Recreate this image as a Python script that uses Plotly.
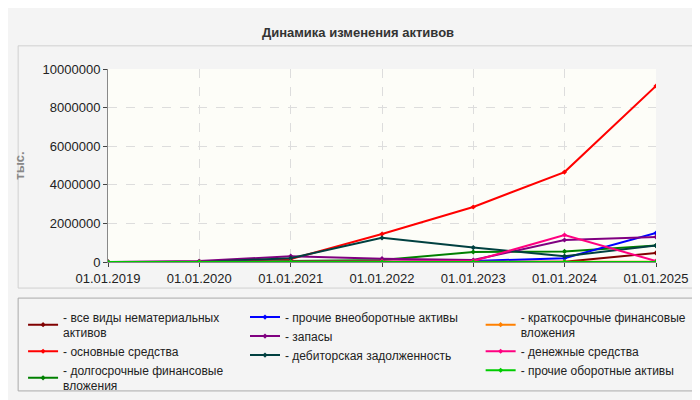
import plotly.graph_objs as go

dates = ['2019-01-01', '2020-01-01', '2021-01-01', '2022-01-01',
         '2023-01-01', '2024-01-01', '2025-01-01']
tick_labels = ['01.01.2019', '01.01.2020', '01.01.2021', '01.01.2022',
               '01.01.2023', '01.01.2024', '01.01.2025']

# thousands
intangible = [0, 0, 0, 0, 0, 10000, 470000]
other_noncurrent = [0, 0, 0, 0, 50000, 200000, 1500000]
short_fin = [0, 0, 0, 10000, 10000, 10000, 10000]
fixed = [0, 0, 150000, 1450000, 2850000, 4660000, 9120000]
stock = [0, 50000, 300000, 170000, 100000, 1140000, 1300000]
cash = [0, 0, 0, 30000, 50000, 1400000, 50000]
long_fin = [0, 0, 50000, 100000, 520000, 550000, 850000]
receivables = [0, 0, 200000, 1250000, 750000, 300000, 850000]
other_current = [0, 0, 0, 0, 0, 0, 0]

# (name, values, colour, legend column)
series = [
    ('все виды нематериальных<br>активов', intangible, '#800000', 'legend'),
    ('основные средства', fixed, '#ff0000', 'legend'),
    ('долгосрочные финансовые<br>вложения', long_fin, '#008000', 'legend'),
    ('прочие внеоборотные активы', other_noncurrent, '#0000ff', 'legend2'),
    ('запасы', stock, '#800080', 'legend2'),
    ('дебиторская задолженность', receivables, '#004040', 'legend2'),
    ('краткосрочные финансовые<br>вложения', short_fin, '#ff8000', 'legend3'),
    ('денежные средства', cash, '#ff0080', 'legend3'),
    ('прочие оборотные активы', other_current, '#00cc00', 'legend3'),
]

fig = go.Figure()
for name, vals, color, leg in series:
    fig.add_trace(go.Scatter(
        x=dates, y=vals, name='- ' + name, mode='lines+markers', legend=leg,
        line=dict(color=color, width=2), marker=dict(size=4, color=color, symbol='diamond')))

leg_common = dict(orientation='v', yanchor='top', xanchor='left', y=-0.21,
                  bgcolor='rgba(0,0,0,0)', font=dict(size=12), itemwidth=30,
                  tracegroupgap=0)

fig.update_layout(
    width=700, height=400,
    paper_bgcolor='#f4f4f4', plot_bgcolor='#fdfdf8',
    font=dict(family='Liberation Sans, Arial', size=12, color='#222'),
    title=dict(text='<b>Динамика изменения активов</b>', x=0.5, y=0.95,
               font=dict(size=13, color='#333')),
    margin=dict(l=100, r=52, t=61, b=146, autoexpand=False),
    showlegend=True,
    legend=dict(x=-0.155, **leg_common),
    legend2=dict(x=0.25, **leg_common),
    legend3=dict(x=0.68, **leg_common),
    shapes=[
        dict(type='rect', xref='paper', yref='paper', x0=-0.164, x1=1.077, y0=-0.135, y1=1.12,
             line=dict(color='#d0d0d0', width=1), layer='below'),
        dict(type='rect', xref='paper', yref='paper', x0=-0.164, x1=1.077, y0=-0.187, y1=-0.668,
             line=dict(color='#aaaaaa', width=1), fillcolor='#f4f4f4', layer='below'),
    ],
)
fig.update_xaxes(tickvals=dates, ticktext=tick_labels, range=['2019-01-01', '2025-01-01'],
                 showgrid=True, gridcolor='#dddddd', griddash='dash', ticks='outside',
                 ticklen=4, showline=True, linecolor='#888', tickfont=dict(size=13))
fig.update_yaxes(range=[0, 10000000], dtick=2000000, tickformat='d', showgrid=True,
                 gridcolor='#dddddd', griddash='dash', ticks='outside', ticklen=4,
                 showline=True, linecolor='#888', zeroline=False, tickfont=dict(size=13),
                 title=dict(text='<b>тыс.</b>', font=dict(size=13, color='#888'), standoff=15))

fig.write_html('out.html')
